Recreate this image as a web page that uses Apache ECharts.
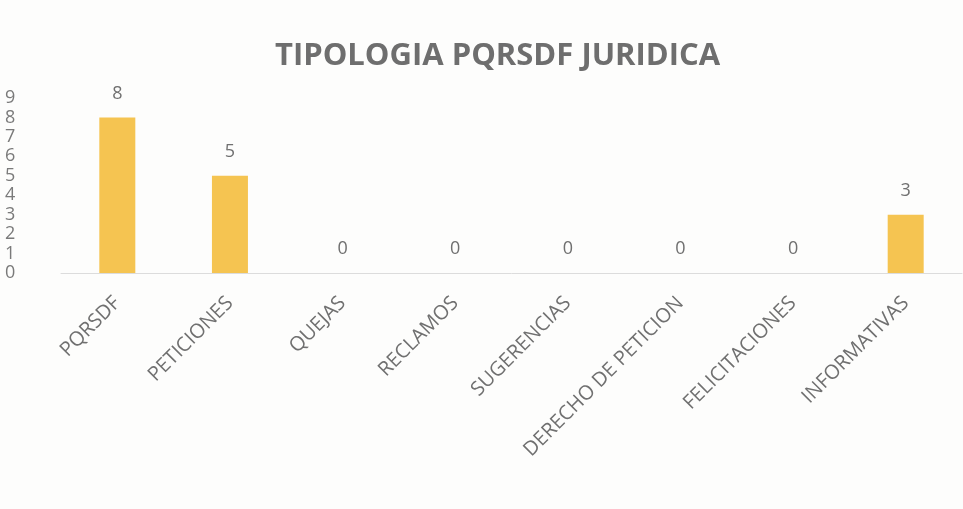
<!DOCTYPE html>
<html>
<head>
<meta charset="utf-8">
<script src="https://cdn.jsdelivr.net/npm/echarts@6/dist/echarts.min.js"></script>
<style>
  html, body { margin: 0; padding: 0; background: #fdfdfc; }
  #chart { width: 963px; height: 509px; }
</style>
</head>
<body>
<div id="chart"></div>
<script>
// datos
const categorias = ['PQRSDF', 'PETICIONES', 'QUEJAS', 'RECLAMOS', 'SUGERENCIAS', 'DERECHO DE PETICION', 'FELICITACIONES', 'INFORMATIVAS']
const valores = [8, 5, 0, 0, 0, 0, 0, 3]
const titulo = 'TIPOLOGIA PQRSDF JURIDICA'

const chart = echarts.init(document.getElementById('chart'))
chart.setOption({
  backgroundColor: '#fdfdfc',
  title: {
    text: titulo,
    left: 270,
    top: 36,
    textStyle: {
      fontFamily: 'Open Sans',
      fontWeight: 'bold',
      fontSize: 31,
      color: '#6e6e6e'
    }
  },
  grid: {
    left: 61,
    right: 1,
    top: 98,
    bottom: 236
  },
  xAxis: {
    type: 'category',
    data: categorias,
    axisLine: { lineStyle: { color: '#dcdcdc', width: 1 } },
    axisTick: { show: false },
    axisLabel: {
      rotate: 45,
      interval: 0,
      margin: 27,
      fontFamily: 'Open Sans',
      fontSize: 20,
      color: '#707070'
    }
  },
  yAxis: {
    type: 'value',
    min: 0,
    max: 9,
    interval: 1,
    splitLine: { show: false },
    axisLine: { show: false },
    axisTick: { show: false },
    axisLabel: {
      align: 'left',
      margin: 56,
      fontFamily: 'Open Sans',
      fontSize: 18,
      color: '#7a7a7a'
    }
  },
  series: [{
    type: 'bar',
    data: valores,
    barWidth: 36,
    itemStyle: { color: '#f5c451' },
    label: {
      show: true,
      position: 'top',
      distance: 15,
      fontFamily: 'Open Sans',
      fontSize: 18,
      color: '#707070'
    }
  }]
})
</script>
</body>
</html>
